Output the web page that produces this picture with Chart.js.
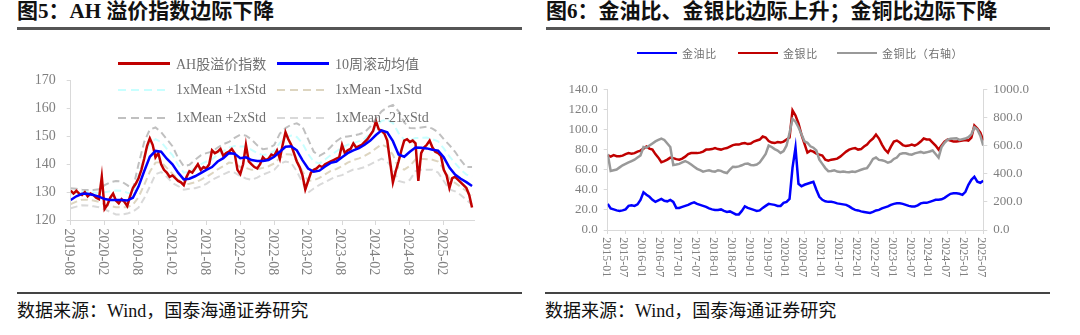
<!DOCTYPE html>
<html>
<head>
<meta charset="utf-8">
<script src="https://cdn.jsdelivr.net/npm/chart.js@4.4.1/dist/chart.umd.min.js"></script>
<style>
  body { margin: 0; width: 1080px; height: 335px; background: #fff; position: relative; overflow: hidden;
         font-family: "Liberation Serif", "Noto Sans CJK SC", serif; }
  .title { position: absolute; top: 0; font-size: 21px; font-weight: bold; line-height: 22px; color: #111; white-space: nowrap; }
  .rule { position: absolute; height: 2.5px; background: #555; }
  .src { position: absolute; top: 300px; font-size: 18px; line-height: 22px; color: #111; white-space: nowrap; }
  canvas { position: absolute; top: 30px; }
  .lg { position: absolute; height: 20px; display: flex; align-items: center; color: #707070; white-space: nowrap; }
  .lg .sw { display: inline-block; height: 2.5px; }
  .l1 { font-size: 14px; }
  .l1 .sw { width: 52px; margin-right: 6px; }
  .l2 { font-size: 11px; letter-spacing: 0.6px; }
  .l2 .sw { width: 40px; margin-right: 5px; }
</style>
</head>
<body>
<div class="title" style="left:17px">图5：AH 溢价指数边际下降</div>
<div class="rule" style="left:17px;top:27px;width:505px"></div>
<div class="title" style="left:546px">图6：金油比、金银比边际上升；金铜比边际下降</div>
<div class="rule" style="left:546px;top:27px;width:504px"></div>

<canvas id="ahChart" width="540" height="260" style="left:0"></canvas>
<canvas id="goldChart" width="540" height="260" style="left:540px"></canvas>

<div class="lg l1" style="left:118px;top:53px"><span class="sw" style="background:#c00000;height:3px"></span>AH股溢价指数</div>
<div class="lg l1" style="left:277px;top:53px"><span class="sw" style="background:#0000ff;height:3px"></span>10周滚动均值</div>
<div class="lg l1" style="left:118px;top:80px"><span class="sw" style="background:repeating-linear-gradient(90deg,#c8ffff 0 8px,transparent 8px 13px)"></span>1xMean +1xStd</div>
<div class="lg l1" style="left:277px;top:80px"><span class="sw" style="background:repeating-linear-gradient(90deg,#ddd5c0 0 8px,transparent 8px 13px)"></span>1xMean -1xStd</div>
<div class="lg l1" style="left:118px;top:108px"><span class="sw" style="background:repeating-linear-gradient(90deg,#c0c0c0 0 8px,transparent 8px 13px)"></span>1xMean +2xStd</div>
<div class="lg l1" style="left:277px;top:108px"><span class="sw" style="background:repeating-linear-gradient(90deg,#d9d9d9 0 8px,transparent 8px 13px)"></span>1xMean -21xStd</div>

<div class="lg l2" style="left:637px;top:43px"><span class="sw" style="background:#0000ff"></span>金油比</div>
<div class="lg l2" style="left:738px;top:43px"><span class="sw" style="background:#c00000"></span>金银比</div>
<div class="lg l2" style="left:837px;top:43px"><span class="sw" style="background:#999999"></span>金铜比（右轴）</div>

<div class="rule" style="left:17px;top:292px;width:505px;height:2px;background:#444"></div>
<div class="src" style="left:17px">数据来源：Wind，国泰海通证券研究</div>
<div class="rule" style="left:545px;top:292px;width:505px;height:2px;background:#444"></div>
<div class="src" style="left:545px">数据来源：Wind，国泰海通证券研究</div>

<script>
// ---- 图5 AH 溢价指数 (2019-08 起) ----
const ahStart = [2019, 8];
const ahTickLabels = ['2019-08', '2020-02', '2020-08', '2021-02', '2021-08', '2022-02',
  '2022-08', '2023-02', '2023-08', '2024-02', '2024-08', '2025-02'];
const ahYTicks = [120, 130, 140, 150, 160, 170];

// 半月一个点
const ahIndex = [
  130.5, 129.5, 130.5, 129.5, 129, 130, 128.5, 129.5, 129, 128, 127.5, 135.5, 124, 125.5, 128, 129.5, 127, 126, 127.5, 126.5,
  125, 128.5, 131.5, 133, 135, 138, 142, 146.5, 149.3, 147,
  142.5, 144, 140, 138, 137, 135.5, 136, 135, 134, 133.5,
  132.5, 135.5, 137.5, 137, 138.5, 140, 138, 139, 138.5, 140,
  145, 144, 144.5, 145.5, 143, 144, 144.5, 145.5, 144, 138,
  136.5, 140, 147, 141, 140, 139, 138.5, 140, 142.5, 141.5,
  142, 143.5, 143, 145, 142, 147, 151.5, 149, 147, 144,
  141, 139, 136, 131, 134, 137, 138, 138.5, 139.5, 139,
  140, 140.5, 141, 141.5, 142, 142.5, 147, 144, 145, 145.5,
  147.5, 146, 146.5, 147, 148, 149, 150.5, 152, 155.5, 152.5,
  152, 151, 148.5, 141, 133.5, 137.5, 141, 145, 148.5, 149,
  148, 148.5, 147.5, 134, 144, 146, 147, 148.5, 146, 144.5,
  144, 143, 138, 136, 131.5, 135, 135.5, 134.5, 133.5, 132.5,
  131.5, 129, 124.5
];
// 以下按月
const ahMa10 = [
  127.2, 128.5, 129.4, 129.4, 129, 128.4, 127.5, 127.2, 127.2, 127.2, 127, 128,
  132, 137.5, 142.7, 144.8, 144.5, 142, 140, 137, 134.6, 134.8, 135.7, 136.8,
  138, 139, 141, 142.2, 144, 143.8, 142.2, 142.5, 141.5, 141.2, 141.2, 141.5,
  142.7, 144.5, 146.3, 146.5, 145, 141.5, 138.5, 137.3, 137.7, 139.2, 140.5, 141,
  142.5, 144, 145, 145.8, 147, 148.5, 150.5, 152.2, 151.5, 148.3, 143.5, 142.7,
  144.5, 146, 145.9, 145.7, 145.2, 144.9, 142.5, 138.8, 136.3, 134.8, 133.6, 132.2
];
const ahPlus1 = [
  129.3, 129.9, 130.1, 130.1, 129.9, 129.7, 130, 130.3, 130.6, 130.5, 129.8, 129.5,
  136, 142.8, 147.6, 149, 148, 145.5, 143.3, 139.7, 137, 137.3, 138.7, 140,
  141, 141.8, 143.5, 144.7, 146, 146.6, 146.4, 146.4, 145.2, 144, 143.3, 143.6,
  144.8, 147.7, 149.6, 150.3, 149.8, 147.5, 143.7, 140.9, 140.3, 141.7, 143.3, 144.6,
  146.1, 147, 147.6, 148.3, 149.2, 151, 153.5, 155.6, 156, 154.8, 151.2, 148.8,
  148.7, 149.4, 149.5, 149.6, 149, 148.2, 145.7, 142.8, 140.4, 138.1, 136.3, 135.6
];
const ahMinus1 = [
  125.7, 126.6, 127.3, 127.3, 127, 126.5, 125.6, 125, 124.6, 124.5, 124.6, 125.5,
  128.2, 132.6, 137.3, 140.6, 140.8, 138.7, 136.6, 134.6, 132.7, 133, 133.5, 134.4,
  135.5, 136.7, 138.2, 139.3, 140.6, 140.4, 139, 138.7, 138, 138.2, 138.7, 139.3,
  140.3, 142.3, 143.6, 143.5, 141.2, 137.5, 134.1, 134.3, 135.1, 136.4, 137.6, 138.3,
  139.3, 140.6, 141.5, 142.1, 143, 144.2, 145.7, 147.1, 146.2, 143.4, 138.7, 138.1,
  139.4, 141.7, 142, 141.8, 141.6, 141, 138.2, 134.9, 133.3, 131.9, 130.4, 128.9
];
const ahPlus2 = [
  131.4, 131.2, 130.9, 130.8, 130.8, 131, 132.5, 133.5, 134, 133.8, 132.5, 131,
  140, 148, 152.5, 153.2, 151.5, 149, 146.5, 142.3, 139.3, 139.8, 141.6, 143.2,
  144, 144.5, 146, 147.2, 148, 149.5, 150.6, 150.3, 148.9, 146.8, 145.4, 145.7,
  146.9, 151, 153, 154.2, 154.7, 153.5, 149, 144.5, 143, 144.2, 146.2, 148.3,
  149.7, 150, 150.3, 150.8, 151.5, 153.5, 156.5, 159, 160.5, 161.3, 159, 155,
  153, 152.9, 153.2, 153.5, 152.8, 151.5, 149, 146.9, 144.5, 141.5, 139, 139
];
const ahMinus2 = [
  124.2, 124.8, 125.3, 125.2, 124.9, 124.6, 123.8, 122.9, 122, 121.9, 122.3, 123,
  124.5, 127.8, 132, 136.4, 137.2, 135.5, 133.3, 132.2, 130.9, 131.2, 131.4, 132,
  133, 134.4, 135.4, 136.4, 137.3, 137, 135.8, 134.9, 134.4, 135.2, 136.3, 137.1,
  138, 140.2, 141, 140.5, 137.5, 133.5, 129.8, 131.3, 132.6, 133.6, 134.7, 135.6,
  136.1, 137.2, 138.1, 138.4, 139, 140, 141, 142, 140.9, 138.5, 134, 133.5,
  134.4, 137.5, 138, 138, 138, 137, 134, 131, 130.3, 129, 127.2, 125.6
];

// ---- 图6 金油比 / 金银比 / 金铜比 (2015-01 起, 按月) ----
const goldStart = [2015, 1];
const goldTickLabels = ['2015-01', '2015-07', '2016-01', '2016-07', '2017-01', '2017-07', '2018-01', '2018-07',
  '2019-01', '2019-07', '2020-01', '2020-07', '2021-01', '2021-07', '2022-01', '2022-07', '2023-01', '2023-07',
  '2024-01', '2024-07', '2025-01', '2025-07'];
const goldLeftTicks = [0, 20, 40, 60, 80, 100, 120, 140];
const goldRightTicks = [0, 200, 400, 600, 800, 1000];

const goldOil = [
  26, 21.5, 20.5, 19.5, 19, 19.5, 20.5, 24, 24.5, 24, 25.5, 30,
  37.5, 35, 33, 30, 28, 29.5, 31, 29, 28.5, 30, 28, 22,
  22, 23, 24, 25, 26.5, 27.5, 26, 25, 24, 23, 21.5, 20.5,
  20, 20, 20.5, 19, 18, 18.5, 17, 15.5, 15.5, 19, 23.5, 22,
  21, 20, 19, 19.5, 22, 24, 26, 25.5, 25, 24, 24, 27,
  28, 31, 62, 82, 46, 43.5, 45, 46, 47, 48, 40, 33,
  30, 28.5, 28, 28, 27.5, 26.5, 26, 25.5, 25, 23.5, 21.5, 20,
  19.5, 18.5, 18, 17.5, 17, 18, 19.5, 20, 21.5, 22.5, 23.5, 25,
  26, 26.5, 26.5, 26, 25, 24, 23.5, 23.5, 24.5, 26.5, 27, 27,
  28, 29, 30, 30, 30.5, 32, 34, 36, 36.5, 36.5, 36, 35,
  38, 45, 50, 53, 48, 47, 49
];
const goldSilver = [
  74.5, 73, 74.5, 73.5, 73.5, 74, 75.5, 76.5, 76, 76.5, 78, 79,
  81, 83, 81, 80, 75.5, 72, 67.5, 68.5, 70, 72, 71.5, 70.5,
  70, 71, 73, 75.5, 76.5, 76.5, 76.5, 77, 78, 80, 80, 80.5,
  81.5, 80.5, 80, 81, 81.5, 83, 84.5, 85, 85, 86, 86.5, 85.5,
  86, 88, 89, 90, 93, 92, 88.5, 87, 86.5, 87.5, 87, 88,
  90, 92, 119, 114, 106, 95, 86, 77, 79, 78, 76, 75,
  74, 70, 69, 70, 70.5, 71, 73, 75.5, 78, 80, 81, 81.5,
  80, 80.5, 83, 85, 88.5, 91, 95, 91, 85, 80, 77, 83,
  88, 89, 87, 84.5, 83.5, 84, 85, 84, 85.5, 88, 91, 90,
  90, 87, 84, 80, 84, 88, 90, 89, 88, 88, 88.5, 89,
  89.5, 89, 92, 104, 101, 97, 89
];
const goldCopper = [
  540, 420, 425, 430, 445, 460, 470, 480, 490, 500, 515, 530,
  590, 585, 600, 615, 630, 640, 650, 640, 615, 590, 462, 465,
  470, 480, 490, 480, 465, 450, 435, 425, 415, 420, 425, 418,
  415, 425, 420, 410, 405, 430, 450, 448, 452, 460, 470, 472,
  462, 460, 465, 480, 510, 540, 600, 590, 575, 565, 548, 560,
  600, 690, 790, 770, 730, 680, 630, 620, 595, 585, 565, 500,
  470, 440, 418, 420, 425, 415, 412, 415, 412, 410, 415, 412,
  420, 428, 435, 440, 470, 505, 515, 498, 495, 490, 478, 485,
  505, 515, 540, 545, 545, 538, 535, 545, 550, 555, 548, 552,
  558, 565, 540, 515, 590, 620, 640, 648, 650, 652, 640, 645,
  650, 660, 680, 730, 715, 670, 600
];

function monthIdx(label, start) {
  const [y, m] = label.split('-').map(Number);
  return (y - start[0]) * 12 + (m - start[1]);
}
const monthly = arr => arr.map((v, i) => ({ x: i, y: v }));
const halfMonthly = arr => arr.map((v, i) => ({ x: i / 2, y: v }));

// x 轴标签竖排 (顺时针旋转, 自上而下读)
function downLabels(labels, start, size, gap) {
  return {
    id: 'downLabels',
    afterDraw(chart) {
      const s = chart.scales.x, ctx = chart.ctx;
      ctx.save();
      ctx.font = size + 'px "Liberation Serif"';
      ctx.fillStyle = '#7f7f7f';
      ctx.textAlign = 'left';
      ctx.textBaseline = 'middle';
      labels.forEach(l => {
        ctx.save();
        ctx.translate(s.getPixelForValue(monthIdx(l, start)) - 2, s.top + gap);
        ctx.rotate(Math.PI / 2);
        ctx.fillText(l, 0, 0);
        ctx.restore();
      });
      ctx.restore();
    }
  };
}

const axisGrey = '#d9d9d9';
const tickFont = size => ({ family: 'Liberation Serif', size: size });
const line = (label, data, color, width, dash) => ({
  label, data, borderColor: color, borderWidth: width, borderDash: dash || [],
  pointRadius: 0, tension: 0, fill: false
});

new Chart(document.getElementById('ahChart'), {
  type: 'line',
  data: {
    datasets: [
      line('10周滚动均值', monthly(ahMa10), '#0000ff', 2.5),
      line('AH股溢价指数', halfMonthly(ahIndex), '#c00000', 2.5),
      line('1xMean +1xStd', monthly(ahPlus1), '#c8ffff', 2, [7, 4]),
      line('1xMean -1xStd', monthly(ahMinus1), '#ddd5c0', 2, [7, 4]),
      line('1xMean +2xStd', monthly(ahPlus2), '#c0c0c0', 2, [7, 4]),
      line('1xMean -21xStd', monthly(ahMinus2), '#d9d9d9', 2, [7, 4])
    ]
  },
  options: {
    responsive: false,
    devicePixelRatio: 1,
    animation: false,
    layout: { padding: { left: 0, right: 65.7, top: 50.7, bottom: 0 } },
    plugins: { legend: { display: false }, tooltip: { enabled: false } },
    scales: {
      x: {
        type: 'linear', min: 0, max: 71.4,
        afterBuildTicks: s => { s.ticks = ahTickLabels.map(l => ({ value: monthIdx(l, ahStart) })); },
        afterFit: s => { s.height = 70; },
        ticks: { display: false },
        grid: { drawOnChartArea: false, color: axisGrey, tickLength: 5 },
        border: { color: axisGrey }
      },
      y: {
        min: 120, max: 170,
        afterBuildTicks: s => { s.ticks = ahYTicks.map(v => ({ value: v })); },
        afterFit: s => { s.width = 70.7; },
        ticks: { font: tickFont(14), color: '#7f7f7f', padding: 11 },
        grid: { drawOnChartArea: false, color: axisGrey, tickLength: 4 },
        border: { color: axisGrey }
      }
    }
  },
  plugins: [downLabels(ahTickLabels, ahStart, 14, 8.6)]
});

new Chart(document.getElementById('goldChart'), {
  type: 'line',
  data: {
    datasets: [
      Object.assign(line('金铜比（右轴）', monthly(goldCopper), '#999999', 2.5), { yAxisID: 'y2' }),
      line('金银比', monthly(goldSilver), '#c00000', 2.5),
      line('金油比', monthly(goldOil), '#0000ff', 2.5)
    ]
  },
  options: {
    responsive: false,
    devicePixelRatio: 1,
    animation: false,
    layout: { padding: { left: 0, right: 0, top: 59.3, bottom: 0 } },
    plugins: { legend: { display: false }, tooltip: { enabled: false } },
    scales: {
      x: {
        type: 'linear', min: 0, max: 126,
        afterBuildTicks: s => { s.ticks = goldTickLabels.map(l => ({ value: monthIdx(l, goldStart) })); },
        afterFit: s => { s.height = 60; },
        ticks: { display: false },
        grid: { drawOnChartArea: false, color: axisGrey, tickLength: 4 },
        border: { color: axisGrey }
      },
      y: {
        position: 'left', min: 0, max: 140,
        afterBuildTicks: s => { s.ticks = goldLeftTicks.map(v => ({ value: v })); },
        afterFit: s => { s.width = 67.7; },
        ticks: { font: tickFont(13), color: '#7f7f7f', padding: 6, callback: v => v.toFixed(1) },
        grid: { drawOnChartArea: false, color: axisGrey, tickLength: 4 },
        border: { color: axisGrey }
      },
      y2: {
        position: 'right', min: 0, max: 1000,
        afterBuildTicks: s => { s.ticks = goldRightTicks.map(v => ({ value: v })); },
        afterFit: s => { s.width = 96.7; },
        ticks: { font: tickFont(13), color: '#7f7f7f', padding: 6, callback: v => v.toFixed(1) },
        grid: { drawOnChartArea: false, color: axisGrey, tickLength: 4 },
        border: { color: axisGrey }
      }
    }
  },
  plugins: [downLabels(goldTickLabels, goldStart, 12, 7.2)]
});
</script>
</body>
</html>
